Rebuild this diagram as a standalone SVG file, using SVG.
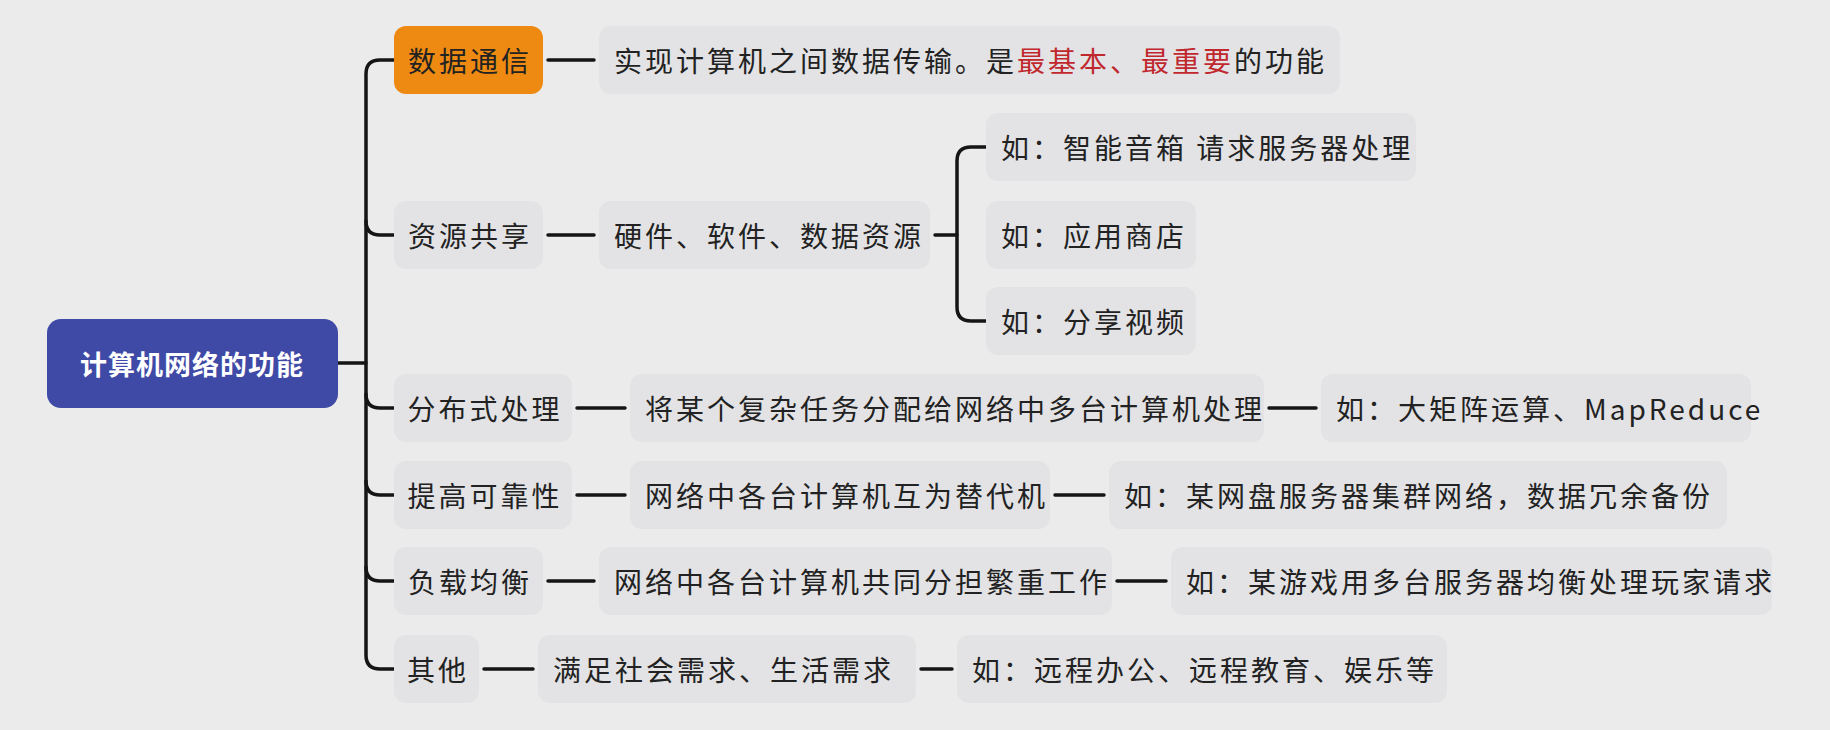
<svg xmlns="http://www.w3.org/2000/svg" width="1830" height="730" viewBox="0 0 1830 730">
<style>
.b{fill:#e3e3e5}
.t{font-family:"Noto Sans CJK SC","Liberation Sans",sans-serif;font-size:28px;letter-spacing:3px;fill:#222;dominant-baseline:central}
.c{fill:none;stroke:#151515;stroke-width:3.5;stroke-linecap:round}
.r{fill:#c0282e}
</style>
<rect width="1830" height="730" fill="#ebebeb"/>
<g id="connectors">
<path class="c" d="M338 363 H366"/>
<path class="c" d="M394 60 H380 Q366 60 366 74 V655 Q366 669 380 669 H394"/>
<path class="c" d="M366 221 Q366 235 380 235 H394"/>
<path class="c" d="M366 394 Q366 408 380 408 H394"/>
<path class="c" d="M366 481 Q366 495 380 495 H394"/>
<path class="c" d="M366 567 Q366 581 380 581 H394"/>
<path class="c" d="M548 60 H594"/>
<path class="c" d="M548 235 H594"/>
<path class="c" d="M577 408 H625"/>
<path class="c" d="M577 495 H625"/>
<path class="c" d="M548 581 H594"/>
<path class="c" d="M484 669 H533"/>
<path class="c" d="M935 235 H957"/>
<path class="c" d="M986 147 H971 Q957 147 957 161 V307 Q957 321 971 321 H986"/>
<path class="c" d="M1269 408 H1316"/>
<path class="c" d="M1055 495 H1104"/>
<path class="c" d="M1117 581 H1166"/>
<path class="c" d="M921 669 H952"/>
</g>
<g id="root"><rect x="47" y="319" width="291" height="89" rx="14" fill="#3f4aa6"/><text class="t" x="192" y="363" text-anchor="middle" style="fill:#fff;font-weight:bold;font-size:27px;letter-spacing:1px">计算机网络的功能</text></g>
<g id="n1"><rect x="394" y="26" width="149" height="68" rx="12" fill="#ee8a12"/><text class="t" x="470" y="60" text-anchor="middle">数据通信</text></g>
<g id="n2"><rect class="b" x="394" y="201" width="149" height="68" rx="12"/><text class="t" x="470" y="235" text-anchor="middle">资源共享</text></g>
<g id="n3"><rect class="b" x="394" y="374" width="178" height="68" rx="12"/><text class="t" x="485" y="408" text-anchor="middle">分布式处理</text></g>
<g id="n4"><rect class="b" x="394" y="461" width="178" height="68" rx="12"/><text class="t" x="485" y="495" text-anchor="middle">提高可靠性</text></g>
<g id="n5"><rect class="b" x="394" y="547" width="149" height="68" rx="12"/><text class="t" x="470" y="581" text-anchor="middle">负载均衡</text></g>
<g id="n6"><rect class="b" x="394" y="635" width="85" height="68" rx="12"/><text class="t" x="438" y="669" text-anchor="middle">其他</text></g>
<g id="m1"><rect class="b" x="599" y="26" width="741" height="68" rx="12"/><text class="t" x="614" y="60">实现计算机之间数据传输。是<tspan class="r">最基本、最重要</tspan>的功能</text></g>
<g id="m2"><rect class="b" x="599" y="201" width="331" height="68" rx="12"/><text class="t" x="614" y="235">硬件、软件、数据资源</text></g>
<g id="m3"><rect class="b" x="630" y="374" width="634" height="68" rx="12"/><text class="t" x="645" y="408">将某个复杂任务分配给网络中多台计算机处理</text></g>
<g id="m4"><rect class="b" x="630" y="461" width="420" height="68" rx="12"/><text class="t" x="645" y="495">网络中各台计算机互为替代机</text></g>
<g id="m5"><rect class="b" x="599" y="547" width="513" height="68" rx="12"/><text class="t" x="614" y="581">网络中各台计算机共同分担繁重工作</text></g>
<g id="m6"><rect class="b" x="538" y="635" width="378" height="68" rx="12"/><text class="t" x="553" y="669">满足社会需求、生活需求</text></g>
<g id="e1"><rect class="b" x="986" y="113" width="430" height="68" rx="12"/><text class="t" x="1001" y="147">如：智能音箱 请求服务器处理</text></g>
<g id="e2"><rect class="b" x="986" y="201" width="210" height="68" rx="12"/><text class="t" x="1001" y="235">如：应用商店</text></g>
<g id="e3"><rect class="b" x="986" y="287" width="210" height="68" rx="12"/><text class="t" x="1001" y="321">如：分享视频</text></g>
<g id="e4"><rect class="b" x="1321" y="374" width="430" height="68" rx="12"/><text class="t" x="1336" y="408">如：大矩阵运算、MapReduce</text></g>
<g id="e5"><rect class="b" x="1109" y="461" width="618" height="68" rx="12"/><text class="t" x="1124" y="495">如：某网盘服务器集群网络，数据冗余备份</text></g>
<g id="e6"><rect class="b" x="1171" y="547" width="601" height="68" rx="12"/><text class="t" x="1186" y="581">如：某游戏用多台服务器均衡处理玩家请求</text></g>
<g id="e7"><rect class="b" x="957" y="635" width="490" height="68" rx="12"/><text class="t" x="972" y="669">如：远程办公、远程教育、娱乐等</text></g>
</svg>
